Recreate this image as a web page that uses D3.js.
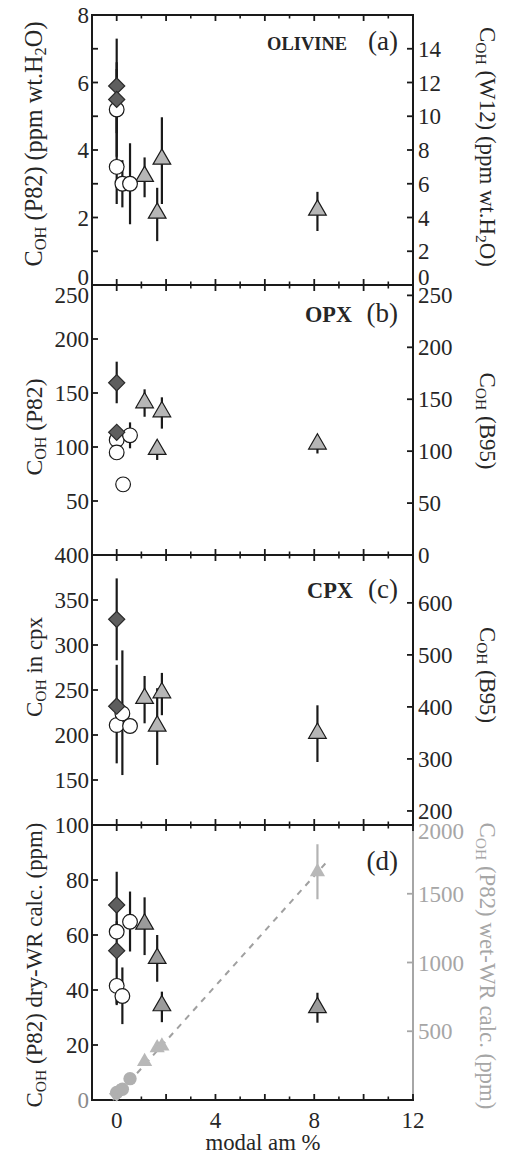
<!DOCTYPE html>
<html><head><meta charset="utf-8">
<script src="https://cdn.jsdelivr.net/npm/d3@7"></script>
<style>body{margin:0;background:#fff}svg{display:block}text{font-family:"Liberation Serif","Times New Roman",serif}</style>
</head><body>
<script>
// ---- data ----
const xMajorTicks = [0,2,4,6,8,10,12];
const xMinorTicks = [1,3,5,7,9,11];
const xTickLabels = [0,4,8,12];
const xLabel = "modal am %";

// Panel (a) olivine
const diamondsA = {x:[0,0], y:[5.9,5.5], lo:[4.5,4.6], hi:[7.3,6.6]};
const circlesA  = {x:[0,0,0.23,0.54], y:[5.2,3.5,3.0,3.0], lo:[3.8,2.4,2.3,1.8], hi:[6.4,4.6,3.7,4.2]};
const trianglesA= {x:[1.13,1.64,1.83,8.13], y:[3.22,2.13,3.73,2.22], lo:[2.6,1.3,2.4,1.6], hi:[3.78,2.88,4.97,2.76]};
// Panel (b) opx
const diamondsB = {x:[0,0], y:[159.5,113.6], lo:[140.5,113.6], hi:[179,113.6]};
const circlesB  = {x:[0,0,0.26,0.54], y:[106.5,95,65.4,110.8], lo:[106.5,95,65.4,98.8], hi:[106.5,95,65.4,122.8]};
const trianglesB= {x:[1.13,1.64,1.83,8.13], y:[141,97.8,132.7,102.8], lo:[128,88,117,94], hi:[153.4,97.8,146,102.8]};
// Panel (c) cpx
const diamondsC = {x:[0,0], y:[328.5,232], lo:[283,168.5], hi:[374,278]};
const circlesC  = {x:[0,0.23,0.54], y:[211,224,210], lo:[211,155.5,210], hi:[211,294,210]};
const trianglesC= {x:[1.13,1.64,1.83,8.13], y:[240.7,210,247,202], lo:[213,166.7,222,170], hi:[265.6,252,269,233]};
// Panel (d) whole rock, dry (left axis)
const diamondsD = {x:[0,0], y:[70.9,54.3], lo:[60,34.5], hi:[83,65]};
const circlesD  = {x:[0,0,0.23,0.54], y:[61.2,41.5,37.8,64.8], lo:[61.2,35,27.6,54], hi:[61.2,41.5,48.2,75.8]};
const trianglesD= {x:[1.13,1.64,1.83,8.13], y:[64,51.5,34.3,33.6], lo:[52.7,43,28.3,28.1], hi:[73.7,60,39.4,39]};
// Panel (d) whole rock, wet (right axis)
const wetDiamonds = {x:[0,0.05], y:[45,60]};
const wetCircles  = {x:[0,0.23,0.54], y:[55,78,155]};
const wetTriangles= {x:[1.13,1.64,1.83,8.13], y:[280,380,392,1660], lo:[280,380,392,1460], hi:[280,380,392,1860]};
const wetFitX = [-0.15, 8.45];
const wetFitY = [0, 1720];

// axis settings
const leftDomains  = [[0,8],[0,250],[100,400],[0,100]];
const rightDomains = [[0,16],[0,260],[173,692],[0,2000]];
const leftTicks  = [[1,2,3,4,5,6,7],[50,100,150,200],[150,200,250,300,350],[20,40,60,80]];
const leftLabels = [[0,2,4,6,8],[50,100,150,200,250],[100,150,200,250,300,350,400],[0,20,40,60,80,100]];
const rightTicks = [[2,4,6,8,10,12,14],[50,100,150,200,250],[200,300,400,500,600],[500,1000,1500]];
const rightLabels= [[0,2,4,6,8,10,12,14],[0,50,100,150,200,250],[200,300,400,500,600],[500,1000,1500,2000]];
const leftTitles = [["C","OH"," (P82) (ppm wt.H","2","O)"],["C","OH"," (P82)"],["C","OH"," in cpx"],["C","OH"," (P82) dry-WR calc. (ppm)"]];
const rightTitles= [["C","OH"," (W12) (ppm wt.H","2","O)"],["C","OH"," (B95)"],["C","OH"," (B95)"],["C","OH"," (P82) wet-WR calc. (ppm)"]];
const panelNames = ["OLIVINE","OPX","CPX",""];
const panelTags  = ["(a)","(b)","(c)","(d)"];

// ---- drawing ----
const W=506,H=1155;
const svg=d3.select("body").append("svg").attr("width",W).attr("height",H);
const L=92,R=413;
const panelTops=[15,285,555,825], panelH=[270,270,270,275];
const x=d3.scaleLinear().domain([-1,12]).range([L,R]);
const ink="#1a1a1a", txt="#262626", greyAx="#a6a6a6";
const tickFs=23;
// layout of the rotated titles: [centre y, length]
const leftTitleLayout  = [[144,245],[427,97],[667,100],[965,285]];
const rightTitleLayout = [[147,240],[421,97],[675,96],[966,287]];

const dataSets=[[diamondsA,circlesA,trianglesA],[diamondsB,circlesB,trianglesB],[diamondsC,circlesC,trianglesC],[diamondsD,circlesD,trianglesD]];

function addTitle(g,parts,target){
  const t=g.append("text").attr("text-anchor","middle");
  const setFs=fs=>t.selectAll("tspan").each(function(_,i){d3.select(this).attr("font-size",(i%2===1)?fs*0.68:fs);});
  parts.forEach((p,i)=>{
    const sub=(i%2===1);
    t.append("tspan").text(p).attr("baseline-shift",sub?"-22%":null);
  });
  setFs(21);
  const w=t.node().getComputedTextLength();
  if(w>0) setFs(21*target/w);
  return t;
}
function fitWidth(t,target){
  const w=t.node().getComputedTextLength();
  const fs=+t.attr("font-size");
  if(w>0) t.attr("font-size",fs*target/w);
}

panelTops.forEach((top,i)=>{
  const bot=top+panelH[i];
  const yL=d3.scaleLinear().domain(leftDomains[i]).range([bot,top]);
  const yR=d3.scaleLinear().domain(rightDomains[i]).range([bot,top]);
  const g=svg.append("g");
  const rc = i===3?greyAx:ink;
  // frame
  g.append("line").attr("x1",L).attr("x2",L).attr("y1",top).attr("y2",bot).attr("stroke",ink).attr("stroke-width",2);
  g.append("line").attr("x1",R).attr("x2",R).attr("y1",top).attr("y2",bot).attr("stroke",rc).attr("stroke-width",2);
  [top,bot].forEach((yy,k)=>{
    g.append("line").attr("x1",L-1).attr("x2",R+1).attr("y1",yy).attr("y2",yy).attr("stroke",ink).attr("stroke-width",2);
    const dir=k===0?1:-1;
    xMajorTicks.forEach(v=>g.append("line").attr("x1",x(v)).attr("x2",x(v)).attr("y1",yy).attr("y2",yy+dir*6).attr("stroke",ink).attr("stroke-width",1.8));
    xMinorTicks.forEach(v=>g.append("line").attr("x1",x(v)).attr("x2",x(v)).attr("y1",yy).attr("y2",yy+dir*3.5).attr("stroke",ink).attr("stroke-width",1.6));
  });
  // y ticks
  leftTicks[i].forEach(v=>g.append("line").attr("x1",L).attr("x2",L+6).attr("y1",yL(v)).attr("y2",yL(v)).attr("stroke",ink).attr("stroke-width",1.8));
  rightTicks[i].forEach(v=>g.append("line").attr("x1",R).attr("x2",R-6).attr("y1",yR(v)).attr("y2",yR(v)).attr("stroke",rc).attr("stroke-width",1.8));
  leftLabels[i].forEach(v=>{
    if(i===3 && v===100) return;
    let yy=yL(v);
    if(i===0 && v===0) yy-=8;
    if(i===1 && v===250) yy+=10;
    g.append("text").attr("x",L-3).attr("y",yy).attr("dy","0.35em").attr("text-anchor","end")
      .attr("font-size",tickFs).attr("fill",(i===3&&v===0)?"#8a8a8a":txt).text(v);
  });
  rightLabels[i].forEach(v=>{
    let yy=yR(v);
    if(i===0 && v===0) yy-=8;
    if(i===3 && v===2000) yy+=6;
    g.append("text").attr("x",R+5).attr("y",yy).attr("dy","0.35em").attr("text-anchor","start")
      .attr("font-size",tickFs).attr("fill",i===3?greyAx:txt).text(v);
  });
  // titles
  const [lc,ll]=leftTitleLayout[i], [rcY,rl]=rightTitleLayout[i];
  addTitle(g,leftTitles[i],ll).attr("transform",`translate(42,${lc}) rotate(-90)`).attr("fill",txt);
  addTitle(g,rightTitles[i],rl).attr("transform",`translate(480,${rcY}) rotate(90)`).attr("fill",i===3?greyAx:txt);
  // panel labels
  const base=top+[35,37,43,45][i];
  g.append("text").attr("x",398).attr("y",base).attr("text-anchor","end").attr("font-size",27).attr("fill",txt).text(panelTags[i]);
  if(panelNames[i]){
    const nt=g.append("text").attr("x",[347,352,353][i]).attr("y",base).attr("text-anchor","end")
      .attr("font-size",20).attr("font-weight","bold").attr("fill",txt).text(panelNames[i]);
    fitWidth(nt,[80,47,46][i]);
  }

  // wet series (panel d)
  if(i===3){
    const line=d3.line().x(d=>x(d[0])).y(d=>yR(d[1]));
    g.append("path").attr("d",line(d3.zip(wetFitX,wetFitY))).attr("stroke","#a0a0a0").attr("stroke-width",2).attr("stroke-dasharray","6,6").attr("fill","none");
    const wt=d3.zip(wetTriangles.x,wetTriangles.y,wetTriangles.lo,wetTriangles.hi);
    g.selectAll(null).data(wt).join("line").attr("x1",d=>x(d[0])).attr("x2",d=>x(d[0])).attr("y1",d=>yR(d[2])).attr("y2",d=>yR(d[3])).attr("stroke","#b3b3b3").attr("stroke-width",2.2);
    g.selectAll(null).data(d3.zip(wetDiamonds.x,wetDiamonds.y)).join("path").attr("d",d3.symbol(d3.symbolSquare,120)).attr("transform",d=>`translate(${x(d[0])},${yR(d[1])}) rotate(45)`).attr("fill","#b5b5b5");
    g.selectAll(null).data(d3.zip(wetCircles.x,wetCircles.y)).join("path").attr("d",d3.symbol(d3.symbolCircle,140)).attr("transform",d=>`translate(${x(d[0])},${yR(d[1])})`).attr("fill","#b0b0b0");
    g.selectAll(null).data(wt).join("path").attr("d",d3.symbol(d3.symbolTriangle,100)).attr("transform",d=>`translate(${x(d[0])},${yR(d[1])})`).attr("fill","#b8b8b8");
  }

  const [dm,ci,tr]=dataSets[i];
  const eb=s=>d3.zip(s.x,s.y,s.lo,s.hi);
  [tr,ci,dm].forEach(s=>{
    g.selectAll(null).data(eb(s).filter(d=>d[3]>d[2])).join("line").attr("x1",d=>x(d[0])).attr("x2",d=>x(d[0])).attr("y1",d=>yL(d[2])).attr("y2",d=>yL(d[3])).attr("stroke",ink).attr("stroke-width",2.2);
  });
  g.selectAll(null).data(eb(tr)).join("path").attr("d",d3.symbol(d3.symbolTriangle,135)).attr("transform",d=>`translate(${x(d[0])},${yL(d[1])})`).attr("fill",i===3?"#9b9b9b":"#b6b6b6").attr("stroke",ink).attr("stroke-width",1.2);
  g.selectAll(null).data(eb(ci)).join("path").attr("d",d3.symbol(d3.symbolCircle,170)).attr("transform",d=>`translate(${x(d[0])},${yL(d[1])})`).attr("fill","#fff").attr("stroke",ink).attr("stroke-width",1.2);
  g.selectAll(null).data(eb(dm)).join("path").attr("d",d3.symbol(d3.symbolSquare,130)).attr("transform",d=>`translate(${x(d[0])},${yL(d[1])}) rotate(45)`).attr("fill","#5e5e5e").attr("stroke","#2a2a2a").attr("stroke-width",1.2);
});

// x tick labels and title
const bottom=1100;
xTickLabels.forEach(v=>svg.append("text").attr("x",x(v)).attr("y",bottom+28).attr("text-anchor","middle").attr("font-size",tickFs).attr("fill",txt).text(v));
const xl=svg.append("text").attr("x",263).attr("y",1150).attr("text-anchor","middle").attr("font-size",22).attr("fill",txt).text(xLabel);
fitWidth(xl,115);
</script>
</body></html>
